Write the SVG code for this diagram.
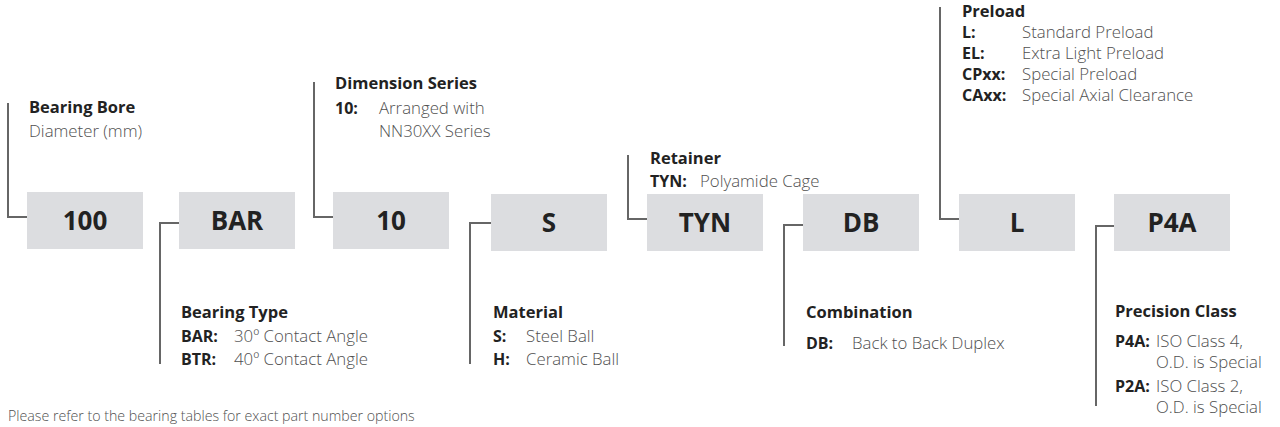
<svg xmlns="http://www.w3.org/2000/svg" width="1280" height="427" viewBox="0 0 1280 427">
<style>
.box{fill:#dcdde0}
.code{font-family:"Open Sans","Liberation Sans",sans-serif;font-weight:700;font-size:26px;fill:#222;text-anchor:middle}
.ttl{font-family:"Open Sans","Liberation Sans",sans-serif;font-weight:700;font-size:16.5px;fill:#222}
.key{font-family:"Open Sans","Liberation Sans",sans-serif;font-weight:700;font-size:16px;fill:#222}
.val{font-family:"Open Sans","Liberation Sans",sans-serif;font-weight:300;font-size:16.8px;fill:#505050}
.note{font-family:"Open Sans","Liberation Sans",sans-serif;font-weight:300;font-size:14.2px;fill:#505050}
.con{fill:none;stroke:#666;stroke-width:2}
</style>
<rect width="1280" height="427" fill="#fff"/>
<g id="connectors">
<path class="con" d="M8,103 V217 H27"/>
<path class="con" d="M179,223 H160 V364"/>
<path class="con" d="M314,82 V217 H333"/>
<path class="con" d="M491,223 H470 V364"/>
<path class="con" d="M628,155 V219 H647"/>
<path class="con" d="M803,225 H784 V346"/>
<path class="con" d="M940,7 V219 H959"/>
<path class="con" d="M1114,226 H1096 V406"/>
</g>
<g id="n100"><rect class="box" x="27" y="192" width="116" height="57"/><text class="code" x="85" y="230">100</text></g>
<g id="nBAR"><rect class="box" x="179" y="192" width="116" height="57"/><text class="code" x="237" y="230">BAR</text></g>
<g id="n10"><rect class="box" x="333" y="192" width="116" height="57"/><text class="code" x="391" y="230">10</text></g>
<g id="nS"><rect class="box" x="491" y="194" width="116" height="57"/><text class="code" x="549" y="232">S</text></g>
<g id="nTYN"><rect class="box" x="647" y="194" width="116" height="57"/><text class="code" x="705" y="232">TYN</text></g>
<g id="nDB"><rect class="box" x="803" y="194" width="116" height="57"/><text class="code" x="861" y="232">DB</text></g>
<g id="nL"><rect class="box" x="959" y="194" width="116" height="57"/><text class="code" x="1017" y="232">L</text></g>
<g id="nP4A"><rect class="box" x="1114" y="194" width="116" height="57"/><text class="code" x="1172" y="232">P4A</text></g>
<g id="lbl-bore">
<text class="ttl" x="29" y="113">Bearing Bore</text>
<text class="val" x="29" y="137">Diameter (mm)</text>
</g>
<g id="lbl-type">
<text class="ttl" x="181" y="318">Bearing Type</text>
<text class="key" x="181" y="342">BAR:</text><text class="val" x="234" y="342">30º Contact Angle</text>
<text class="key" x="181" y="365">BTR:</text><text class="val" x="234" y="365">40º Contact Angle</text>
</g>
<g id="lbl-dim">
<text class="ttl" x="335" y="89">Dimension Series</text>
<text class="key" x="335" y="114">10:</text><text class="val" x="379" y="114">Arranged with</text>
<text class="val" x="379" y="137">NN30XX Series</text>
</g>
<g id="lbl-mat">
<text class="ttl" x="493" y="318">Material</text>
<text class="key" x="493" y="342">S:</text><text class="val" x="526" y="342">Steel Ball</text>
<text class="key" x="493" y="365">H:</text><text class="val" x="526" y="365">Ceramic Ball</text>
</g>
<g id="lbl-ret">
<text class="ttl" x="650" y="164">Retainer</text>
<text class="key" x="650" y="187">TYN:</text><text class="val" x="700" y="187">Polyamide Cage</text>
</g>
<g id="lbl-comb">
<text class="ttl" x="806" y="318">Combination</text>
<text class="key" x="806" y="349">DB:</text><text class="val" x="852" y="349">Back to Back Duplex</text>
</g>
<g id="lbl-pre">
<text class="ttl" x="962" y="17">Preload</text>
<text class="key" x="962" y="38">L:</text><text class="val" x="1022" y="38">Standard Preload</text>
<text class="key" x="962" y="59">EL:</text><text class="val" x="1022" y="59">Extra Light Preload</text>
<text class="key" x="962" y="80">CPxx:</text><text class="val" x="1022" y="80">Special Preload</text>
<text class="key" x="962" y="101">CAxx:</text><text class="val" x="1022" y="101">Special Axial Clearance</text>
</g>
<g id="lbl-prec">
<text class="ttl" x="1115" y="317">Precision Class</text>
<text class="key" x="1115" y="347">P4A:</text><text class="val" x="1156" y="347">ISO Class 4,</text>
<text class="val" x="1156" y="368">O.D. is Special</text>
<text class="key" x="1115" y="392">P2A:</text><text class="val" x="1156" y="392">ISO Class 2,</text>
<text class="val" x="1156" y="413">O.D. is Special</text>
</g>
<text class="note" x="8" y="421">Please refer to the bearing tables for exact part number options</text>
</svg>
